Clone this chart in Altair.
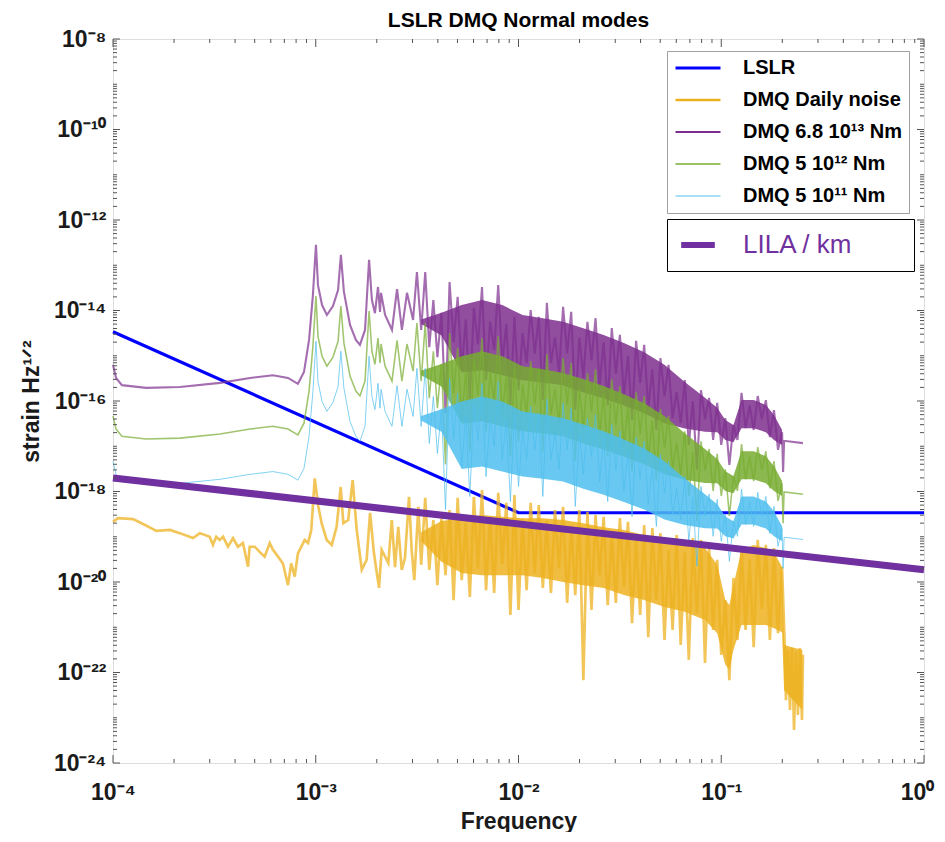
import math
import altair as alt
import pandas as pd

# ---------------- data: log10(frequency / Hz) and log10(strain / Hz^1/2) ----------------
SERIES = ["LSLR", "DMQ Daily noise", "DMQ 6.8 10¹³ Nm", "DMQ 5 10¹² Nm", "DMQ 5 10¹¹ Nm"]
COLORS = ["#0000ff", "#edb120", "#7e2f8e", "#77ac30", "#4dbeee"]
WIDTHS = [3.2, 1, 1, 1, 1]
LILA_NAME = "LILA / km"
LILA_COLOR = "#7030a0"

LSLR_LOGF = [-4.0, -2.0, 0.0]
LSLR_LOGV = [-14.47, -18.47, -18.47]

LILA_LOGF = [-4.0, 0.0]
LILA_LOGV = [-17.70, -19.73]

# resolved normal-mode peaks region (shared frequency samples for the three DMQ models)
PEAK_LOGF = [-4.000, -3.985, -3.956, -3.837, -3.670, -3.472, -3.324, -3.211, -3.137, -3.088,
             -3.058, -3.033, -3.014, -2.999, -2.989, -2.969, -2.945, -2.915, -2.890, -2.876,
             -2.861, -2.831, -2.802, -2.782, -2.757, -2.737, -2.723, -2.708, -2.693, -2.683,
             -2.678, -2.658, -2.624, -2.599, -2.575, -2.550, -2.520, -2.501]
PURPLE_PEAK = [-15.20, -15.49, -15.65, -15.71, -15.69, -15.60, -15.49, -15.43, -15.49, -15.62,
               -15.36, -14.65, -13.66, -12.55, -13.44, -13.88, -14.10, -13.90, -13.55, -12.77,
               -13.59, -14.32, -14.65, -14.76, -14.43, -12.88, -13.77, -14.06, -13.48, -14.03,
               -13.61, -14.10, -14.43, -13.53, -14.43, -13.61, -14.21, -13.15]
GREEN_PEAK = [-16.33, -16.62, -16.78, -16.84, -16.82, -16.73, -16.62, -16.56, -16.62, -16.75,
              -16.49, -15.78, -14.79, -13.68, -14.57, -15.01, -15.23, -15.03, -14.68, -13.90,
              -14.72, -15.45, -15.78, -15.89, -15.56, -14.01, -14.90, -15.19, -14.61, -15.16,
              -14.74, -15.23, -15.56, -14.66, -15.56, -14.74, -15.34, -14.28]
BLUE_PEAK = [-17.33, -17.62, -17.78, -17.84, -17.82, -17.73, -17.62, -17.56, -17.62, -17.75,
             -17.49, -16.78, -15.79, -14.68, -15.57, -16.01, -16.23, -16.03, -15.68, -14.90,
             -15.72, -16.45, -16.78, -16.89, -16.56, -15.01, -15.90, -16.19, -15.61, -16.16,
             -15.74, -16.23, -16.56, -15.66, -16.56, -15.74, -16.34, -15.28]

# dense part of the spectra
DENSE_LOGF = [-2.48, -2.46, -2.44, -2.42, -2.40, -2.38, -2.36, -2.34, -2.32, -2.30,
              -2.28, -2.26, -2.24, -2.22, -2.20, -2.18, -2.16, -2.14, -2.12, -2.10,
              -2.08, -2.06, -2.04, -2.02, -2.00, -1.98, -1.96, -1.94, -1.92, -1.90,
              -1.88, -1.86, -1.84, -1.82, -1.80, -1.78, -1.76, -1.74, -1.72, -1.70,
              -1.68, -1.66, -1.64, -1.62, -1.60, -1.58, -1.56, -1.54, -1.52, -1.50,
              -1.48, -1.46, -1.44, -1.42, -1.40, -1.38, -1.36, -1.34, -1.32, -1.30,
              -1.28, -1.26, -1.24, -1.22, -1.20, -1.18, -1.16, -1.14, -1.12, -1.10,
              -1.08, -1.06, -1.04, -1.02, -1.00, -0.98, -0.96, -0.94, -0.92, -0.90,
              -0.88, -0.86, -0.84, -0.82, -0.80, -0.78, -0.76, -0.74, -0.72, -0.70]
PURPLE_DENSE = [-14.43, -13.15, -14.81, -13.77, -15.03, -14.05, -16.27, -13.37, -14.70, -13.70,
                -15.32, -14.20, -15.98, -13.94, -14.75, -13.48, -15.54, -14.25, -14.87, -13.44,
                -15.16, -14.30, -16.09, -14.14, -15.76, -14.50, -15.16, -13.99, -14.95, -14.14,
                -15.98, -13.83, -15.16, -14.60, -15.38, -13.92, -14.95, -14.03, -16.20, -14.60,
                -15.49, -14.25, -15.10, -14.17, -15.65, -14.70, -16.09, -14.39, -15.40, -14.54,
                -15.87, -15.00, -16.42, -14.67, -15.60, -14.76, -16.15, -15.30, -16.64, -15.05,
                -15.90, -15.20, -16.38, -15.80, -16.49, -15.54, -16.97, -16.00, -17.52, -15.76,
                -16.40, -15.93, -16.86, -16.04, -16.97, -16.38, -17.41, -16.53, -16.86, -15.82,
                -16.60, -16.10, -16.64, -15.89, -16.40, -15.98, -16.80, -16.20, -17.08, -16.69]
GREEN_DENSE = [-15.56, -14.28, -15.94, -14.90, -16.16, -15.18, -17.40, -14.50, -15.83, -14.83,
               -16.45, -15.33, -17.11, -15.07, -15.88, -14.61, -16.67, -15.38, -16.00, -14.57,
               -16.29, -15.43, -17.22, -15.27, -16.89, -15.63, -16.29, -15.12, -16.08, -15.27,
               -17.11, -14.96, -16.29, -15.73, -16.51, -15.05, -16.08, -15.16, -17.33, -15.73,
               -16.62, -15.38, -16.23, -15.30, -16.78, -15.83, -17.22, -15.52, -16.53, -15.67,
               -17.00, -16.13, -17.55, -15.80, -16.73, -15.89, -17.28, -16.43, -17.77, -16.18,
               -17.03, -16.33, -17.51, -16.93, -17.62, -16.67, -18.10, -17.13, -18.65, -16.89,
               -17.53, -17.06, -17.99, -17.17, -18.10, -17.51, -18.54, -17.66, -17.99, -16.95,
               -17.73, -17.23, -17.77, -17.02, -17.53, -17.11, -17.93, -17.33, -18.21, -17.82]
BLUE_DENSE = [-16.56, -15.28, -16.94, -15.90, -17.16, -16.18, -18.40, -15.50, -16.83, -15.83,
              -17.45, -16.33, -18.11, -16.07, -16.88, -15.61, -17.67, -16.38, -17.00, -15.57,
              -17.29, -16.43, -18.22, -16.27, -17.89, -16.63, -17.29, -16.12, -17.08, -16.27,
              -18.11, -15.96, -17.29, -16.73, -17.51, -16.05, -17.08, -16.16, -18.33, -16.73,
              -17.62, -16.38, -17.23, -16.30, -17.78, -16.83, -18.22, -16.52, -17.53, -16.67,
              -18.00, -17.13, -18.55, -16.80, -17.73, -16.89, -18.28, -17.43, -18.77, -17.18,
              -18.03, -17.33, -18.51, -17.93, -18.62, -17.67, -19.10, -18.13, -19.65, -17.89,
              -18.53, -18.06, -18.99, -18.17, -19.10, -18.51, -19.54, -18.66, -18.99, -17.95,
              -18.73, -18.23, -18.77, -18.02, -18.53, -18.11, -18.93, -18.33, -19.21, -18.82]
ORANGE_DENSE = [-19.62, -18.14, -19.73, -18.63, -20.07, -18.60, -19.85, -18.41, -20.40, -18.14,
                -19.96, -18.70, -20.33, -18.12, -19.70, -17.97, -20.18, -18.55, -20.24, -18.03,
                -19.60, -18.25, -20.73, -18.08, -20.62, -18.60, -20.18, -18.25, -19.80, -18.30,
                -20.13, -18.65, -20.24, -18.41, -19.70, -18.34, -20.46, -18.75, -20.29, -18.41,
                -22.17, -18.45, -20.62, -18.52, -19.85, -18.56, -20.51, -18.95, -20.46, -18.59,
                -20.10, -18.67, -20.91, -19.05, -20.73, -18.74, -21.22, -18.81, -20.40, -18.92,
                -21.28, -19.30, -21.06, -18.96, -21.39, -19.35, -21.72, -19.03, -20.70, -19.07,
                -21.79, -19.25, -21.06, -19.51, -21.61, -20.40, -22.17, -19.91, -21.28, -19.25,
                -21.06, -19.50, -21.44, -19.07, -20.60, -19.18, -21.28, -19.25, -21.13, -19.67]

# end of the model spectra (0.2 - 0.25 Hz)
TAIL_LOGF = [-0.695, -0.690, -0.597]
PURPLE_TAIL = [-17.57, -16.88, -16.93]
GREEN_TAIL = [-18.70, -18.01, -18.06]
BLUE_TAIL = [-19.70, -19.01, -19.06]

# daily noise: low-frequency part and end
ORANGE_LOW_LOGF = [-4.000, -3.975, -3.901, -3.842, -3.786, -3.719, -3.671, -3.605, -3.572, -3.523,
                   -3.507, -3.491, -3.474, -3.457, -3.433, -3.408, -3.384, -3.359, -3.334, -3.326,
                   -3.301, -3.276, -3.252, -3.227, -3.211, -3.186, -3.162, -3.137, -3.121, -3.104,
                   -3.088, -3.071, -3.055, -3.038, -3.022, -3.005, -2.987, -2.971, -2.946, -2.921,
                   -2.897, -2.877, -2.864, -2.840, -2.818, -2.798, -2.773, -2.749, -2.732, -2.713,
                   -2.688, -2.675, -2.642, -2.625, -2.609, -2.593, -2.576, -2.560, -2.540, -2.527,
                   -2.514, -2.494]
ORANGE_LOW = [-18.67, -18.59, -18.61, -18.74, -18.87, -18.85, -18.92, -19.03, -18.92, -19.00,
              -19.18, -19.00, -19.07, -19.00, -19.22, -19.03, -19.22, -19.14, -19.66, -19.22,
              -19.22, -19.34, -19.44, -19.14, -19.29, -19.44, -19.59, -20.07, -19.59, -19.88,
              -19.37, -19.22, -19.07, -19.14, -18.85, -17.71, -18.34, -18.70, -19.07, -19.18,
              -18.78, -17.90, -18.70, -18.63, -17.75, -18.85, -19.73, -19.51, -18.47, -19.36,
              -20.13, -19.29, -19.58, -18.63, -19.67, -18.78, -19.73, -19.47, -18.12, -19.29,
              -19.96, -18.34]
ORANGE_TAIL_LOGF = [-0.686, -0.681, -0.671, -0.661, -0.651, -0.641, -0.631, -0.622, -0.612, -0.602, -0.597]
ORANGE_TAIL = [-21.50, -22.61, -21.50, -22.83, -21.46, -23.27, -21.55, -22.94, -21.46, -23.05, -21.61]

# solid core of the dense spectra (lower / upper edge)
BAND_LOGF = [-2.48, -2.38, -2.28, -2.18, -2.08, -1.98, -1.88, -1.78, -1.68, -1.58, -1.48, -1.38,
             -1.28, -1.18, -1.08, -1.02, -0.98, -0.94, -0.90, -0.84, -0.78, -0.74, -0.70]
PURPLE_HI = [-14.20, -14.05, -13.88, -13.77, -13.88, -14.10, -14.17, -14.25, -14.39, -14.54, -14.72, -14.92,
             -15.20, -15.58, -15.93, -16.15, -16.42, -16.53, -15.98, -15.98, -16.09, -16.31, -16.64]
PURPLE_LO = [-14.30, -14.55, -15.37, -15.32, -15.43, -15.54, -15.59, -15.65, -15.81, -15.94, -16.10, -16.27,
             -16.49, -16.61, -16.68, -16.69, -16.86, -16.91, -16.60, -16.60, -16.69, -16.86, -16.97]
GREEN_HI = [-15.33, -15.18, -15.01, -14.90, -15.01, -15.23, -15.30, -15.38, -15.52, -15.67, -15.85, -16.05,
            -16.33, -16.71, -17.06, -17.28, -17.55, -17.66, -17.11, -17.11, -17.22, -17.44, -17.77]
GREEN_LO = [-15.43, -15.68, -16.50, -16.45, -16.56, -16.67, -16.72, -16.78, -16.94, -17.07, -17.23, -17.40,
            -17.62, -17.74, -17.81, -17.82, -17.99, -18.04, -17.73, -17.73, -17.82, -17.99, -18.10]
BLUE_HI = [-16.33, -16.18, -16.01, -15.90, -16.01, -16.23, -16.30, -16.38, -16.52, -16.67, -16.85, -17.05,
           -17.33, -17.71, -18.06, -18.28, -18.55, -18.66, -18.11, -18.11, -18.22, -18.44, -18.77]
BLUE_LO = [-16.43, -16.68, -17.50, -17.45, -17.56, -17.67, -17.72, -17.78, -17.94, -18.07, -18.23, -18.40,
           -18.62, -18.74, -18.81, -18.82, -18.99, -19.04, -18.73, -18.73, -18.82, -18.99, -19.10]
ORANGE_BAND_LOGF = [-2.48, -2.38, -2.28, -2.18, -2.08, -1.98, -1.88, -1.78, -1.68, -1.58, -1.48, -1.38, -1.28,
                    -1.18, -1.08, -1.02, -0.98, -0.96, -0.94, -0.90, -0.84, -0.78, -0.74, -0.70, -0.69, -0.60]
ORANGE_HI = [-18.90, -18.65, -18.59, -18.52, -18.56, -18.59, -18.59, -18.63, -18.70, -18.79, -18.85, -18.96, -19.03,
             -19.12, -19.25, -19.62, -20.40, -20.51, -20.07, -19.29, -19.18, -19.25, -19.34, -19.67, -21.39, -21.50]
ORANGE_LO = [-19.10, -19.55, -19.80, -19.85, -19.85, -19.85, -19.91, -20.00, -20.07, -20.13, -20.29, -20.40, -20.55,
             -20.66, -20.84, -21.13, -21.83, -21.94, -21.50, -20.95, -20.95, -20.95, -21.02, -21.11, -22.39, -22.83]

# axis tick values
X_LABELS = [1e-4, 1e-3, 1e-2, 1e-1, 1.0]
Y_LABELS = [1e-24, 1e-22, 1e-20, 1e-18, 1e-16, 1e-14, 1e-12, 1e-10, 1e-8]
X_MINOR = [k * 10.0 ** e for e in range(-4, 0) for k in range(2, 10)]
Y_MINOR = [k * 10.0 ** e for e in range(-24, -8) for k in range(1, 10) if not (k == 1 and e % 2 == 0)]

# ---------------- chart ----------------
W, H = 811, 724
FONT = "Liberation Sans"
FRAME = "#555555"
TXT = "#1a1a1a"

SUP = str.maketrans("-0123456789", "⁻⁰¹²³⁴⁵⁶⁷⁸⁹")


def label_expr(values):
    expr = "''"
    for v in values:
        e = int(round(math.log10(v)))
        expr = f"round(log(datum.value)/LN10) == {e} ? '10{str(e).translate(SUP)}' : " + expr
    return expr


xscale = alt.Scale(type="log", domain=[1e-4, 1.0], nice=False)
yscale = alt.Scale(type="log", domain=[1e-24, 1e-8], nice=False)

xaxis = alt.Axis(values=X_LABELS, labelExpr=label_expr(X_LABELS), ticks=False, domain=False, grid=False,
                 labelFont=FONT, labelFontSize=23, labelFontWeight="bold", labelColor=TXT, labelPadding=18,
                 labelFlush=False, labelOverlap=False,
                 labelOffset={"condition": {"test": "datum.value > 0.5", "value": -7}, "value": 0},
                 title="Frequency", titleFont=FONT, titleFontSize=23, titleFontWeight="bold", titleColor=TXT,
                 titleX=W / 2, titleY=65, titleBaseline="alphabetic", titleAlign="center")
yaxis = alt.Axis(values=Y_LABELS, labelExpr=label_expr(Y_LABELS), ticks=False, domain=False, grid=False,
                 labelFont=FONT, labelFontSize=23, labelFontWeight="bold", labelColor=TXT, labelPadding=7,
                 labelFlush=False, labelOverlap=False,
                 title="strain Hz¹ᐟ²", titleFont=FONT, titleFontSize=23, titleFontWeight="bold", titleColor=TXT,
                 titleX=-82, titleY=H / 2, titleAngle=270, titleBaseline="middle", titleAlign="center")


def X(field):
    return alt.X(f"{field}:Q", scale=xscale, axis=xaxis)


def Y(field):
    return alt.Y(f"{field}:Q", scale=yscale, axis=yaxis)


legend_main = alt.Legend(orient="none", legendX=554, legendY=12, title=None,
                         labelFont=FONT, labelFontSize=20, labelFontWeight="bold", labelColor="black",
                         labelLimit=400, symbolType="M-3,0H3", symbolSize=225, symbolOffset=14,
                         labelOffset=35, padding=7, rowPadding=12, strokeColor="#a0a0a0", fillColor="white")
color_enc = alt.Color("series:N", scale=alt.Scale(domain=SERIES, range=COLORS), legend=legend_main)
width_enc = alt.StrokeWidth("series:N", scale=alt.Scale(domain=SERIES, range=WIDTHS), legend=legend_main)


def pow10(a):
    return [10.0 ** x for x in a]


def line_layer(name, logf, logv, opacity):
    df = pd.DataFrame({"f": pow10(logf), "v": pow10(logv), "i": list(range(len(logf)))})
    df["series"] = name
    return alt.Chart(df).mark_line(opacity=opacity).encode(
        x=X("f"), y=Y("v"), color=color_enc, strokeWidth=width_enc, order="i:Q")


def band_layer(logf, lo, hi, color, opacity):
    df = pd.DataFrame({"f": pow10(logf), "lo": pow10(lo), "hi": pow10(hi)})
    return alt.Chart(df).mark_area(color=color, opacity=opacity).encode(
        x=X("f"), y=Y("lo"), y2=alt.Y2("hi:Q"))


layers = [
    line_layer(SERIES[0], LSLR_LOGF, LSLR_LOGV, 1.0),
    band_layer(ORANGE_BAND_LOGF, ORANGE_LO, ORANGE_HI, COLORS[1], 0.85),
    line_layer(SERIES[1], ORANGE_LOW_LOGF + DENSE_LOGF + ORANGE_TAIL_LOGF,
               ORANGE_LOW + ORANGE_DENSE + ORANGE_TAIL, 0.75),
    band_layer(BAND_LOGF, PURPLE_LO, PURPLE_HI, COLORS[2], 0.85),
    line_layer(SERIES[2], PEAK_LOGF + DENSE_LOGF + TAIL_LOGF, PURPLE_PEAK + PURPLE_DENSE + PURPLE_TAIL, 0.7),
    band_layer(BAND_LOGF, GREEN_LO, GREEN_HI, COLORS[3], 0.85),
    line_layer(SERIES[3], PEAK_LOGF + DENSE_LOGF + TAIL_LOGF, GREEN_PEAK + GREEN_DENSE + GREEN_TAIL, 0.7),
    band_layer(BAND_LOGF, BLUE_LO, BLUE_HI, COLORS[4], 0.85),
    line_layer(SERIES[4], PEAK_LOGF + DENSE_LOGF + TAIL_LOGF, BLUE_PEAK + BLUE_DENSE + BLUE_TAIL, 0.7),
]

lila_label = LILA_NAME + "\u00a0" * 4 + "\u2800"
lila_df = pd.DataFrame({"f": pow10(LILA_LOGF), "v": pow10(LILA_LOGV)})
lila_df["series"] = lila_label
legend_lila = alt.Legend(orient="none", legendX=554, legendY=180, title=None,
                         labelFont=FONT, labelFontSize=26, labelFontWeight="normal", labelColor=LILA_COLOR,
                         labelLimit=400, symbolType="M-2.4,0H2.4", symbolSize=196, symbolStrokeWidth=6,
                         symbolOffset=5, labelOffset=32, padding=13, strokeColor="black", fillColor="white")
layers.append(alt.Chart(lila_df).mark_line(strokeWidth=7, strokeCap="butt").encode(
    x=X("f"), y=Y("v"),
    stroke=alt.Stroke("series:N", scale=alt.Scale(domain=[lila_label], range=[LILA_COLOR]), legend=legend_lila)))


# inward axis ticks on all four sides
def yticks(vals, x0, x1):
    return alt.Chart(pd.DataFrame({"v": vals})).mark_rule(color=FRAME, strokeWidth=1).encode(
        y=Y("v"), x=alt.value(x0), x2=alt.value(x1))


def xticks(vals, y0, y1):
    return alt.Chart(pd.DataFrame({"f": vals})).mark_rule(color=FRAME, strokeWidth=1).encode(
        x=X("f"), y=alt.value(y0), y2=alt.value(y1))


layers += [
    yticks(Y_LABELS, 0, 7), yticks(Y_MINOR, 0, 4), yticks(Y_LABELS, W, W - 7), yticks(Y_MINOR, W, W - 4),
    xticks(X_LABELS, H, H - 8), xticks(X_MINOR, H, H - 4), xticks(X_LABELS, 0, 8), xticks(X_MINOR, 0, 4),
]

chart = alt.layer(*layers).properties(
    width=W, height=H,
    padding={"left": 105, "top": 31, "right": 13, "bottom": 69},
    autosize=alt.AutoSizeParams(type="none"),
    title=alt.TitleParams("LSLR DMQ Normal modes", font=FONT, fontSize=21, fontWeight="bold",
                          color="black", anchor="middle", offset=-3, frame="group"),
).configure_view(stroke=FRAME, strokeWidth=1).configure(font=FONT)

chart.save("out.html", embed_options={"renderer": "svg", "actions": False})
